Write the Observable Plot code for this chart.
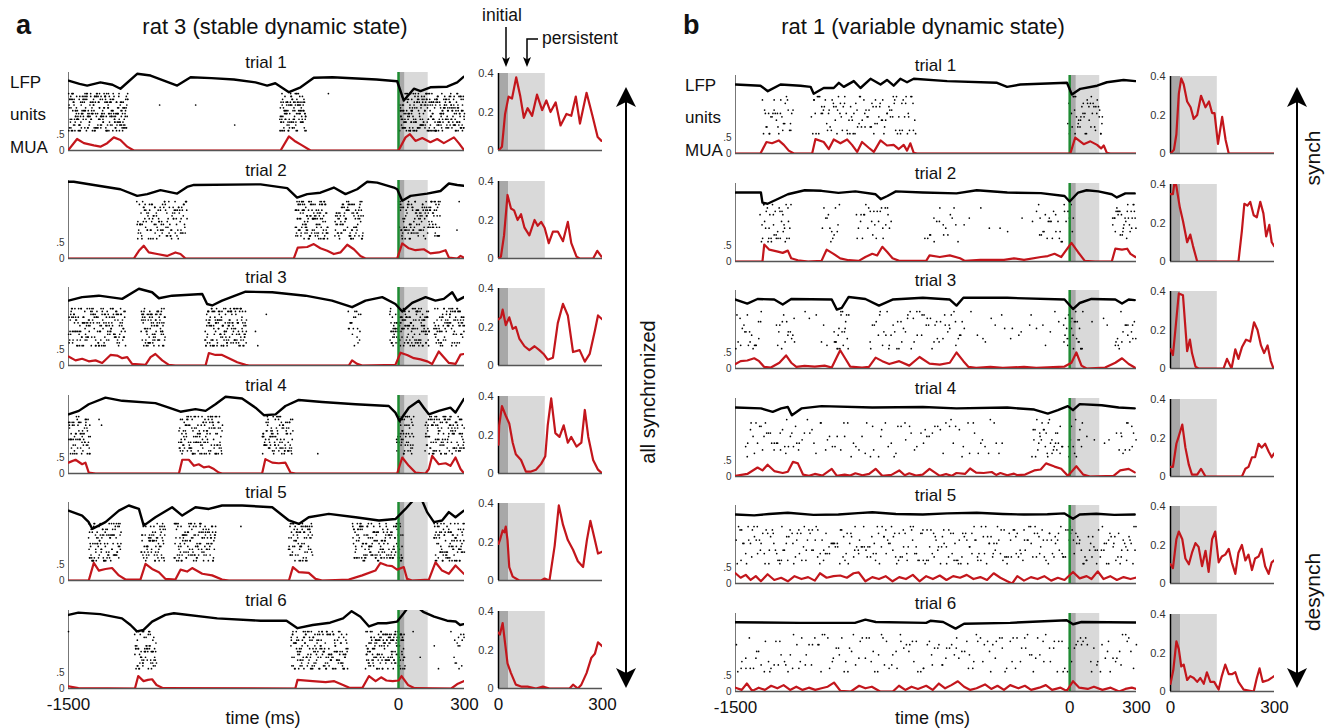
<!DOCTYPE html>
<html><head><meta charset="utf-8">
<script src="https://cdn.jsdelivr.net/npm/d3@7"></script>
<script src="https://cdn.jsdelivr.net/npm/@observablehq/plot@0.6"></script>
<style>
body{margin:0;background:#fff;}
#fig{position:relative;width:1327px;height:728px;overflow:hidden;background:#fff;font-family:"Liberation Sans",Arial,Helvetica,sans-serif;}
.t{position:absolute;white-space:nowrap;line-height:1;color:#111;}
</style></head><body><div id="fig"></div>
<script>
// ---------------- DATA ----------------
const trialLabels = ["trial 1","trial 2","trial 3","trial 4","trial 5","trial 6"];
const mainTicks = [-1500, 0, 300];
const insetTicks = [0, 300];
const muaTicks = [0, 0.5];
const insetYTicks = [0, 0.2, 0.4];
const shadeWindows = [{from: 0, to: 30, kind: "initial"}, {from: 30, to: 135, kind: "persistent"}];

// LFP traces, [time ms, level] (0 = top of range, -1 = deepest)
const lfpA = [
 [[-1500,-0.24],[-1450,-0.35],[-1415,-0.41],[-1355,-0.3],[-1300,-0.38],[-1264,-0.52],[-1188,0],[-1127,-0.06],[-1006,-0.41],[-945,-0.12],[-850,-0.15],[-748,-0.2],[-650,-0.3],[-597,-0.41],[-560,-0.33],[-498,-0.64],[-445,-0.47],[-385,-0.14],[-300,-0.12],[-100,-0.2],[-6,-0.26],[24,-0.93],[70,-0.52],[100,-0.6],[145,-0.47],[221,-0.45],[267,-0.3],[297,-0.1]],
 [[-1500,0],[-1476,0],[-1385,-0.11],[-1264,-0.26],[-1188,-0.49],[-1142,-0.43],[-1082,-0.29],[-1006,-0.41],[-961,-0.18],[-930,-0.11],[-627,-0.09],[-506,-0.22],[-461,-0.55],[-415,-0.43],[-355,-0.38],[-294,-0.2],[-241,-0.43],[-188,-0.26],[-142,0],[-97,-0.03],[-21,-0.2],[-6,-0.26],[17,-0.66],[55,-0.49],[130,-0.41],[191,-0.32],[229,-0.06],[267,-0.11],[297,-0.14]],
 [[-1500,-0.41],[-1438,-0.29],[-1362,-0.24],[-1256,-0.35],[-1180,0],[-1120,-0.12],[-1089,-0.33],[-1029,-0.24],[-892,-0.18],[-870,-0.53],[-847,-0.58],[-802,-0.41],[-695,-0.1],[-574,-0.12],[-423,-0.24],[-302,-0.41],[-211,-0.64],[-150,-0.41],[-74,-0.29],[-14,-0.53],[17,-0.79],[62,-0.49],[123,-0.29],[168,-0.41],[206,-0.35],[244,-0.12],[267,-0.41],[297,-0.29]],
 [[-1500,-0.61],[-1453,-0.49],[-1408,-0.26],[-1332,-0.03],[-1256,-0.14],[-1105,-0.22],[-1044,-0.38],[-991,-0.52],[-923,-0.43],[-877,-0.49],[-832,-0.26],[-786,0],[-711,-0.06],[-650,-0.38],[-612,-0.64],[-559,-0.61],[-514,-0.32],[-453,-0.11],[-347,-0.18],[-195,-0.26],[-44,-0.32],[-14,-0.55],[5,-0.84],[47,-0.38],[92,-0.14],[115,-0.38],[138,-0.61],[183,-0.49],[236,-0.38],[259,-0.55],[297,-0.08]],
 [[-1500,-0.24],[-1438,-0.41],[-1408,-0.64],[-1392,-0.87],[-1332,-0.64],[-1271,-0.24],[-1226,-0.06],[-1180,-0.18],[-1158,-0.76],[-1105,-0.47],[-1029,-0.12],[-983,-0.41],[-923,-0.12],[-862,-0.18],[-802,-0.06],[-711,-0.06],[-574,-0.12],[-498,-0.58],[-453,-0.7],[-408,-0.47],[-317,-0.35],[-195,-0.47],[-89,-0.58],[-14,-0.53],[32,-0.18],[70,0.15],[108,0.1],[130,-0.29],[161,-0.64],[198,-0.58],[229,-0.29],[259,-0.47],[297,-0.24]],
 [[-1500,-0.11],[-1455,-0.03],[-1356,-0.08],[-1257,-0.23],[-1218,-0.46],[-1189,-0.68],[-1159,-0.63],[-1120,-0.34],[-1060,-0.11],[-1021,-0.05],[-824,-0.23],[-627,-0.31],[-509,-0.31],[-459,-0.57],[-390,-0.46],[-311,-0.38],[-252,-0.23],[-213,0.02],[-173,-0.17],[-134,-0.51],[-95,-0.4],[-55,-0.4],[-6,-0.34],[24,-0.05],[43,0.15],[80,0.2],[112,0],[162,-0.17],[221,-0.31],[260,-0.34],[280,-0.46],[296,-0.43]]
];
const lfpB = [
 [[-1500,-0.27],[-1388,-0.31],[-1355,-0.5],[-1298,-0.27],[-1208,-0.31],[-1163,-0.35],[-1149,-0.59],[-1104,-0.39],[-1059,-0.39],[-1036,-0.21],[-1014,-0.35],[-969,-0.15],[-939,-0.39],[-894,-0.07],[-849,-0.27],[-820,-0.11],[-790,-0.31],[-760,-0.07],[-730,-0.19],[-700,-0.07],[-550,-0.15],[-326,-0.21],[-281,-0.35],[-221,-0.27],[-12,-0.21],[10,-0.62],[48,-0.42],[123,-0.31],[167,-0.19],[242,-0.11],[295,-0.15]],
 [[-1500,-0.27],[-1386,-0.27],[-1379,-0.62],[-1356,-0.66],[-1265,-0.33],[-1189,-0.19],[-1114,-0.21],[-1038,-0.28],[-962,-0.23],[-871,-0.33],[-848,-0.5],[-818,-0.39],[-780,-0.23],[-659,-0.27],[-508,-0.3],[-417,-0.19],[-280,-0.27],[-129,-0.29],[-23,-0.39],[0,-0.58],[38,-0.27],[76,-0.19],[129,-0.23],[189,-0.33],[212,-0.44],[250,-0.3],[292,-0.3]],
 [[-1500,-0.27],[-1447,-0.41],[-1401,-0.25],[-1326,-0.27],[-1288,-0.44],[-1250,-0.25],[-1068,-0.27],[-1045,-0.62],[-1023,-0.56],[-992,-0.18],[-917,-0.25],[-856,-0.48],[-795,-0.27],[-659,-0.21],[-538,-0.27],[-508,-0.48],[-477,-0.21],[-280,-0.21],[-23,-0.27],[15,-0.6],[45,-0.39],[98,-0.25],[205,-0.27],[235,-0.41],[265,-0.27],[292,-0.29]],
 [[-1500,-0.27],[-1386,-0.3],[-1333,-0.42],[-1295,-0.3],[-1265,-0.25],[-1247,-0.54],[-1204,-0.3],[-1114,-0.22],[-886,-0.27],[-659,-0.25],[-508,-0.3],[-280,-0.27],[-159,-0.34],[-98,-0.48],[-53,-0.36],[-8,-0.22],[15,-0.36],[45,-0.15],[144,-0.19],[220,-0.27],[292,-0.3]],
 [[-1500,-0.27],[-1416,-0.3],[-1350,-0.25],[-1265,-0.21],[-1150,-0.28],[-1038,-0.27],[-950,-0.22],[-886,-0.19],[-780,-0.25],[-659,-0.27],[-550,-0.23],[-417,-0.21],[-300,-0.25],[-205,-0.27],[-100,-0.26],[-23,-0.23],[15,-0.42],[45,-0.27],[120,-0.24],[200,-0.28],[292,-0.27]],
 [[-1500,-0.26],[-1208,-0.28],[-964,-0.28],[-917,-0.17],[-870,-0.25],[-644,-0.28],[-625,-0.21],[-568,-0.25],[-512,-0.48],[-474,-0.31],[-267,-0.28],[-13,-0.19],[15,-0.33],[53,-0.25],[297,-0.27]]
];

// MUA traces in the long window, [time ms, rate]
const muaA = [
 [[-1500,0.02],[-1461,0.36],[-1430,0.23],[-1385,0.16],[-1355,0.12],[-1324,0.23],[-1294,0.41],[-1264,0.33],[-1233,0.12],[-1203,0],[-536,0],[-498,0.44],[-468,0.28],[-438,0.16],[-400,0],[0,0],[32,0.41],[52,0.51],[77,0.3],[108,0.39],[145,0.26],[176,0.36],[206,0.23],[252,0.41],[274,0.23],[297,0.02]],
 [[-1500,0],[-1203,0],[-1180,0.24],[-1158,0.4],[-1135,0.19],[-1097,0.14],[-1052,0.08],[-1014,0.19],[-991,0.14],[-968,0],[-476,0],[-458,0.34],[-415,0.36],[-385,0.45],[-355,0.32],[-324,0.24],[-294,0.14],[-264,0.19],[-233,0.43],[-203,0.29],[-173,0.08],[-150,0],[-6,0],[17,0.47],[47,0.32],[77,0.26],[115,0.29],[145,0.16],[183,0.19],[214,0.26],[229,0.03],[267,0],[282,0.08],[297,0.03]],
 [[-1500,0.28],[-1468,0.16],[-1438,0.21],[-1408,0.13],[-1377,0.16],[-1347,0.08],[-1309,0.33],[-1279,0.31],[-1256,0.23],[-1233,0.26],[-1211,0.05],[-1150,0.02],[-1127,0.26],[-1105,0.36],[-1074,0.16],[-1044,0.02],[-1014,0],[-877,0],[-862,0.39],[-832,0.33],[-802,0.33],[-771,0.23],[-733,0.1],[-695,0.02],[-680,0],[-226,0],[-211,0.16],[-188,0.05],[-165,0],[-14,0.02],[9,0.4],[39,0.33],[70,0.23],[100,0.19],[130,0.13],[153,0.05],[183,0.44],[206,0.26],[229,0.08],[259,0.05],[282,0.34],[297,0.36]],
 [[-1500,0.34],[-1468,0.43],[-1438,0.29],[-1423,0.34],[-1408,0.03],[-1377,0],[-998,0],[-983,0.43],[-953,0.43],[-930,0.24],[-908,0.29],[-885,0.19],[-862,0.22],[-839,0.14],[-817,0.03],[-802,0],[-620,0],[-605,0.45],[-574,0.34],[-544,0.32],[-514,0.34],[-491,0.03],[-468,0],[-6,0],[17,0.5],[47,0.24],[77,0.03],[123,0],[138,0.14],[153,0.55],[183,0.29],[214,0.32],[236,0.24],[259,0.5],[282,0.14],[297,0.01]],
 [[-1500,0],[-1408,0],[-1385,0.55],[-1362,0.31],[-1332,0.36],[-1302,0.39],[-1271,0.16],[-1241,0.03],[-1173,0.03],[-1150,0.52],[-1120,0.36],[-1089,0.26],[-1059,0.05],[-1014,0.03],[-991,0.34],[-961,0.28],[-938,0.39],[-892,0.21],[-847,0.16],[-802,0.03],[-771,0],[-498,0],[-480,0.42],[-453,0.26],[-408,0.24],[-377,0.05],[-347,0],[-226,0.03],[-165,0.16],[-105,0.31],[-82,0.55],[-52,0.47],[-29,0.45],[-6,0.34],[24,0.42],[39,0.05],[62,0],[138,0.03],[168,0.57],[198,0.31],[229,0.21],[259,0.47],[297,0.21]],
 [[-1500,0.07],[-1455,0.01],[-1198,0],[-1183,0.39],[-1159,0.23],[-1139,0.27],[-1120,0.29],[-1100,0.11],[-1070,0.01],[-469,0],[-459,0.27],[-390,0.23],[-331,0.2],[-292,0.23],[-252,0.11],[-223,0.02],[-164,0.02],[-134,0.39],[-104,0.23],[-79,0.35],[-55,0.25],[-26,0.23],[0,0.25],[14,0.39],[43,0.11],[73,0.01],[240,0],[270,0.15],[296,0.23]]
];
const muaB = [
 [[-1500,0],[-1388,0],[-1361,0.36],[-1336,0.32],[-1306,0.41],[-1283,0.27],[-1261,0.09],[-1238,0],[-1156,0],[-1141,0.45],[-1104,0.36],[-1081,0.14],[-1059,0.44],[-1029,0.32],[-999,0.44],[-977,0.27],[-954,0.05],[-932,0.36],[-902,0.18],[-879,0.05],[-849,0.41],[-820,0.25],[-790,0.27],[-767,0.14],[-745,0.27],[-730,0.09],[-715,0.32],[-700,0.02],[-685,0],[3,0],[25,0.5],[63,0.29],[93,0.38],[123,0.27],[141,0.16],[153,0.25],[167,0.02],[182,0],[300,0]],
 [[-1500,0],[-1379,0],[-1371,0.53],[-1348,0.37],[-1310,0.31],[-1288,0.27],[-1265,0.34],[-1250,0.1],[-1220,0.04],[-1174,0],[-1114,0.02],[-1091,0.37],[-1060,0.24],[-1030,0.1],[-992,0.04],[-947,0.02],[-917,0.14],[-886,0.24],[-864,0.19],[-841,0.46],[-818,0.29],[-795,0.1],[-765,0.02],[-644,0.02],[-629,0.19],[-583,0.14],[-538,0.19],[-492,0.1],[-470,0.02],[-401,0.05],[-295,0.05],[-250,0.1],[-205,0.05],[-129,0.14],[-98,0.17],[-68,0.24],[-38,0.14],[8,0.58],[38,0.29],[68,0.02],[114,0],[189,0],[205,0.4],[235,0.37],[258,0.4],[273,0.24],[295,0.14]],
 [[-1500,0.14],[-1477,0.23],[-1447,0.25],[-1416,0.32],[-1394,0.23],[-1371,0.05],[-1341,0.03],[-1303,0.18],[-1273,0.41],[-1250,0.18],[-1227,0.05],[-1190,0.08],[-1144,0.06],[-1100,0.09],[-1068,0.03],[-1045,0.36],[-1030,0.57],[-1008,0.32],[-985,0.06],[-932,0.03],[-901,0.05],[-871,0.34],[-841,0.23],[-810,0.14],[-765,0.23],[-720,0.09],[-674,0.36],[-629,0.15],[-583,0.12],[-538,0.18],[-508,0.5],[-477,0.23],[-454,0.05],[-420,0.02],[-356,0.05],[-300,0.02],[-205,0.05],[-150,0.02],[-23,0.06],[8,0.18],[30,0.5],[53,0.09],[76,0],[159,0.03],[205,0.18],[235,0.32],[265,0.14],[292,0.03]],
 [[-1500,0.02],[-1447,0.08],[-1401,0.28],[-1379,0.19],[-1356,0.37],[-1326,0.17],[-1288,0.11],[-1265,0.15],[-1242,0.46],[-1220,0.41],[-1197,0.06],[-1170,0.02],[-1144,0.08],[-1110,0.03],[-1068,0.24],[-1045,0.02],[-1010,0.06],[-985,0.03],[-962,0.1],[-930,0.04],[-900,0.08],[-871,0.24],[-841,0.02],[-800,0.05],[-765,0.19],[-740,0.04],[-720,0.1],[-690,0.03],[-660,0.06],[-629,0.24],[-583,0.02],[-555,0.08],[-530,0.02],[-508,0.11],[-470,0.08],[-447,0.25],[-420,0.12],[-386,0.11],[-350,0.14],[-330,0.05],[-311,0.11],[-280,0.04],[-250,0.09],[-235,0.04],[-200,0.06],[-159,0.19],[-130,0.22],[-106,0.41],[-68,0.31],[-38,0.24],[-8,0.02],[30,0.32],[61,0.06],[91,0],[197,0.02],[227,0.19],[265,0.24],[292,0.13]],
 [[-1500,0.32],[-1477,0.18],[-1454,0.27],[-1432,0.11],[-1409,0.23],[-1386,0.07],[-1356,0.29],[-1326,0.11],[-1295,0.18],[-1265,0.07],[-1235,0.23],[-1204,0.14],[-1174,0.2],[-1144,0.09],[-1121,0.32],[-1091,0.18],[-1060,0.23],[-1030,0.25],[-1000,0.18],[-970,0.32],[-947,0.35],[-917,0.07],[-886,0.2],[-856,0.14],[-826,0.23],[-795,0.07],[-765,0.2],[-735,0.14],[-704,0.27],[-674,0.07],[-644,0.23],[-614,0.14],[-583,0.25],[-553,0.11],[-523,0.23],[-492,0.18],[-462,0.27],[-432,0.14],[-401,0.2],[-371,0.11],[-341,0.32],[-311,0.18],[-280,0.07],[-258,0],[-235,0.23],[-205,0.09],[-174,0.2],[-144,0.14],[-114,0.23],[-83,0.09],[-53,0.18],[-23,0.11],[15,0.36],[45,0.16],[76,0.23],[98,0.14],[126,0.38],[152,0.14],[182,0.23],[212,0.11],[242,0.2],[273,0.14],[295,0.18]],
 [[-1500,0.12],[-1472,0.05],[-1449,0.25],[-1425,0.02],[-1396,0.12],[-1368,0.05],[-1340,0.18],[-1312,0.1],[-1284,0.2],[-1255,0.05],[-1227,0.15],[-1199,0.05],[-1171,0.12],[-1142,0.05],[-1114,0.1],[-1086,0.15],[-1058,0.28],[-1029,0.02],[-982,0],[-945,0.18],[-917,0.1],[-888,0.15],[-851,0],[-794,0],[-766,0.18],[-738,0.05],[-710,0.15],[-681,0.08],[-644,0.18],[-615,0.05],[-587,0.25],[-559,0.1],[-531,0.2],[-502,0.32],[-474,0.15],[-446,0.05],[-418,0.1],[-380,0.22],[-352,0.08],[-324,0.18],[-295,0.05],[-267,0.2],[-230,0.1],[-201,0.18],[-173,0.05],[-136,0.12],[-107,0.2],[-79,0.05],[-41,0.12],[-13,0.02],[15,0.32],[43,0.12],[81,0.08],[109,0.15],[147,0.05],[184,0.12],[222,0],[250,0.08],[279,0.12],[300,0.08]]
];

// MUA zoomed on 0-300 ms after stimulus, [time ms, rate]
const insetA = [
 [[0,0],[10,0.02],[19,0.19],[29,0.28],[39,0.27],[51,0.38],[63,0.28],[73,0.17],[84,0.22],[97,0.18],[111,0.29],[126,0.21],[138,0.26],[150,0.2],[165,0.25],[179,0.13],[196,0.19],[210,0.18],[223,0.28],[235,0.14],[254,0.3],[271,0.18],[286,0.07],[297,0.05]],
 [[0,0],[7,0.01],[16,0.12],[26,0.33],[36,0.26],[45,0.25],[55,0.2],[65,0.23],[75,0.16],[89,0.12],[104,0.2],[113,0.17],[123,0.19],[133,0.16],[145,0.08],[157,0.14],[171,0.14],[186,0.09],[200,0.19],[210,0.08],[225,0.01],[234,0],[273,0],[285,0.04],[297,0.01]],
 [[0,0.24],[7,0.25],[12,0.29],[21,0.21],[31,0.25],[41,0.19],[50,0.2],[60,0.14],[75,0.1],[89,0.08],[104,0.1],[118,0.08],[130,0.06],[142,0.03],[157,0.04],[171,0.22],[186,0.32],[200,0.26],[215,0.07],[234,0.08],[249,0.02],[263,0.06],[278,0.18],[287,0.26],[299,0.24]],
 [[0,0.15],[2,0.25],[10,0.35],[21,0.3],[31,0.26],[41,0.16],[50,0.1],[65,0.07],[79,0.01],[94,0.01],[108,0.02],[123,0.05],[135,0.09],[142,0.25],[152,0.39],[164,0.21],[176,0.19],[188,0.25],[200,0.16],[210,0.19],[225,0.14],[239,0.16],[249,0.33],[259,0.19],[273,0.07],[287,0.02],[299,0]],
 [[0,0.19],[4,0.21],[12,0.26],[17,0.25],[21,0.28],[26,0.21],[31,0.07],[41,0.02],[60,0],[123,0],[133,0.01],[147,0],[162,0.18],[174,0.39],[186,0.29],[200,0.21],[215,0.16],[229,0.1],[244,0.07],[255,0.21],[265,0.31],[278,0.21],[287,0.14],[299,0.15]],
 [[0,0.29],[4,0.28],[12,0.34],[20,0.22],[26,0.13],[36,0.08],[50,0.02],[65,0.01],[84,0.01],[108,0],[128,0.01],[147,0],[205,0],[215,0.02],[229,0],[239,0.02],[254,0.08],[268,0.16],[278,0.18],[287,0.24],[299,0.22]]
];
const insetB = [
 [[0,0],[10,0.02],[17,0.1],[24,0.31],[31,0.39],[38,0.36],[48,0.27],[58,0.24],[67,0.18],[77,0.2],[88,0.3],[101,0.24],[111,0.27],[120,0.21],[127,0.21],[137,0.05],[149,0.19],[159,0.07],[168,0],[300,0]],
 [[0,0.35],[7,0.35],[12,0.42],[17,0.39],[27,0.28],[36,0.21],[48,0.1],[57,0.14],[65,0.08],[77,0],[196,0],[206,0.16],[213,0.3],[222,0.29],[230,0.31],[240,0.24],[249,0.23],[259,0.31],[268,0.25],[276,0.13],[285,0.19],[292,0.1],[299,0.08]],
 [[0,0.1],[7,0.07],[14,0.2],[24,0.39],[36,0.38],[48,0.09],[56,0.15],[62,0.08],[72,0.01],[81,0],[153,0],[163,0.05],[176,0],[187,0.1],[196,0.05],[206,0.11],[218,0.15],[230,0.14],[241,0.24],[251,0.2],[261,0.12],[270,0.08],[280,0.12],[289,0.04],[297,0]],
 [[0,0.05],[7,0.05],[17,0.17],[24,0.21],[34,0.27],[43,0.15],[53,0.06],[62,0.01],[77,0.01],[88,0.04],[101,0],[206,0],[216,0.04],[225,0.05],[235,0.1],[244,0.1],[254,0.17],[263,0.15],[273,0.17],[283,0.13],[292,0.1],[299,0.12]],
 [[0,0.1],[7,0.08],[17,0.23],[24,0.27],[34,0.23],[43,0.13],[53,0.1],[62,0.16],[72,0.21],[81,0.19],[91,0.09],[101,0.17],[110,0.06],[120,0.23],[129,0.27],[139,0.11],[148,0.14],[158,0.15],[168,0.18],[177,0.11],[187,0.05],[196,0.16],[206,0.2],[216,0.12],[225,0.15],[235,0.07],[244,0.13],[254,0.14],[263,0.18],[273,0.09],[283,0.05],[292,0.11],[299,0.12]],
 [[0,0.04],[8,0.11],[17,0.26],[24,0.22],[31,0.13],[38,0.14],[48,0.06],[57,0.08],[67,0.07],[77,0.05],[86,0.07],[96,0.04],[105,0.1],[115,0.05],[126,0.05],[139,0.01],[148,0.08],[158,0.14],[168,0.09],[177,0.09],[187,0.1],[196,0.05],[211,0.01],[240,0],[249,0.07],[257,0.12],[266,0.05],[283,0.06],[299,0.08]]
];

// unit firing epochs: [start ms, end ms, spikes per unit per 100 ms]
const unitsA = 14, unitsB = 12;
const firingA = [
 [[-1500,-1230,7],[-1100,-1080,0.5],[-940,-920,0.4],[-760,-740,0.4],[-540,-420,7],[-320,-300,0.3],[5,300,7]],
 [[-1190,-960,4],[-470,-320,6],[-290,-160,5],[0,190,5],[265,280,1]],
 [[-1500,-1240,5],[-1170,-1060,6],[-880,-690,6],[-660,-600,0.3],[-230,-170,2.5],[-40,140,6],[160,300,5]],
 [[-1500,-1400,5],[-1380,-1340,0.4],[-1000,-800,5],[-620,-480,5],[-380,-360,0.3],[-10,70,5],[120,300,5]],
 [[-1410,-1260,5],[-1170,-1060,5],[-1020,-830,5],[-720,-700,0.3],[-500,-390,5],[-210,20,5],[160,300,5]],
 [[-1500,-1480,0.4],[-1200,-1100,5],[-490,-230,5],[-150,30,6],[60,240,0.2],[250,300,2]]
];
const firingB = [
 [[-1380,-1240,2],[-1160,-690,2],[-10,150,2.5]],
 [[-1390,-1250,2.5],[-1110,-1030,1.5],[-960,-800,1.5],[-650,-500,1],[-500,-150,0.2],[-150,20,1.5],[190,300,2.5]],
 [[-1500,-1380,1.5],[-1320,-1230,1.5],[-1200,-1070,0.4],[-1060,-990,2.5],[-900,-470,1.2],[-450,-30,0.4],[-30,60,2.5],[100,190,0.3],[200,300,1.5]],
 [[-1460,-1200,1.2],[-1200,-300,0.7],[-170,-30,2],[-10,60,1.5],[70,190,0.3],[210,300,1.2]],
 [[-1500,300,1.6]],
 [[-1500,300,0.9]]
];

// ---------------- LAYOUT ----------------
const FONT = '"Liberation Sans", Arial, Helvetica, sans-serif';
const Y_MAX = 2.44, LFP_TOP = 2.4, LFP_SPAN = 0.9, RAST_LO = 0.62, RAST_HI = 1.78;
const RED = "#c3161c", GREEN = "#1e8c32", DARK = "#a8a8a8", LIGHT = "#d9d9d9";
const panels = [
 {name: "a", title: "rat 3 (stable dynamic state)", x0: 68, x1: 464, ix0: 498, ix1: 602, base: 150, lfp: lfpA, mua: muaA, inset: insetA, firing: firingA, units: unitsA, labelX: 10, titleX: 275},
 {name: "b", title: "rat 1 (variable dynamic state)", x0: 735, x1: 1136, ix0: 1170, ix1: 1274, base: 153, lfp: lfpB, mua: muaB, inset: insetB, firing: firingB, units: unitsB, labelX: 685, titleX: 923}
];
const STEP = 107.6;
const fig = document.getElementById("fig");

function addText(txt, x, y, size, o = {}) {
  const d = document.createElement("div");
  d.className = "t";
  d.textContent = txt;
  d.style.left = x + "px"; d.style.top = y + "px";
  d.style.fontSize = size + "px";
  if (o.weight) d.style.fontWeight = o.weight;
  const tx = o.anchor === "start" ? "0" : o.anchor === "end" ? "-100%" : "-50%";
  d.style.transform = `translate(${tx},-50%)` + (o.rotate ? ` rotate(${o.rotate}deg)` : "");
  fig.appendChild(d);
}
function place(el, left, top) {
  el.style.position = "absolute"; el.style.left = left + "px"; el.style.top = top + "px";
  fig.appendChild(el);
}
// fixed hashed layout of spikes inside each firing epoch (stratified in time, hashed unit row)
function h32(n) {
  n = Math.imul(n ^ (n >>> 16), 0x45d9f3b);
  n = Math.imul(n ^ (n >>> 16), 0x45d9f3b);
  n = n ^ (n >>> 16);
  return (n >>> 0) / 4294967296;
}
function spikeLayout(epochs, U, seed) {
  const out = [];
  epochs.forEach(([t0, t1, rate], j) => {
    const n = Math.round(rate * U * (t1 - t0) / 100);
    for (let k = 0; k < n; k++) {
      const key = seed * 100003 + j * 7919 + k * 31;
      const a = (k + h32(key + 1)) / n;
      const u = Math.floor(h32(key + 2) * U);
      out.push({t: t0 + a * (t1 - t0), y: RAST_LO + u * (RAST_HI - RAST_LO) / (U - 1)});
    }
  });
  return out;
}
const shade = (yMax) => [
  Plot.rect(shadeWindows.filter(d => d.kind === "initial"), {x1: "from", x2: "to", y1: 0, y2: yMax, fill: DARK}),
  Plot.rect(shadeWindows.filter(d => d.kind === "persistent"), {x1: "from", x2: "to", y1: 0, y2: yMax, fill: LIGHT})
];
const style = {fontFamily: FONT, background: "transparent", overflow: "visible", color: "#333"};

panels.forEach((P, pi) => {
  for (let i = 0; i < 6; i++) {
    const B = P.base + i * STEP;
    const last = i === 5;
    {
      const ml = 30, mr = 6, mt = 4, mb = last ? 34 : 4, H = 78;
      const marks = [
        ...shade(Y_MAX),
        Plot.ruleX([-1500], {y1: 0, y2: Y_MAX, stroke: "#777", strokeWidth: 1}),
        Plot.ruleY([0], {stroke: "#555", strokeWidth: 1.5}),
        Plot.dot(spikeLayout(P.firing[i], P.units, i + 1 + pi * 7), {x: "t", y: "y", r: 0.85, fill: "#000"}),
        Plot.ruleX([0], {y1: 0, y2: Y_MAX, stroke: GREEN, strokeWidth: 2.5}),
        Plot.line(P.mua[i], {x: d => d[0], y: d => d[1], stroke: RED, strokeWidth: 2.2, clip: true}),
        Plot.line(P.lfp[i], {x: d => d[0], y: d => LFP_TOP + d[1] * LFP_SPAN, stroke: "#000", strokeWidth: 2.4, clip: true}),
        Plot.axisY(muaTicks, {tickSize: 0, tickPadding: 4, fontSize: 10, tickFormat: d => d === 0 ? "0" : ".5", label: null})
      ];
      if (last) marks.push(Plot.axisX(mainTicks, {tickSize: 0, tickPadding: 9, fontSize: 17, tickFormat: d => String(d), label: null, color: "#111"}));
      const svg = Plot.plot({
        width: (P.x1 - P.x0) + ml + mr, height: H + mt + mb,
        marginLeft: ml, marginRight: mr, marginTop: mt, marginBottom: mb,
        x: {domain: [-1500, 300], axis: null},
        y: {domain: [0, Y_MAX], axis: null},
        style, marks
      });
      place(svg, P.x0 - ml, B - H - mt);
    }
    {
      const ml = 30, mr = 8, mt = 4, mb = last ? 34 : 4, H = 77;
      const marks = [
        ...shade(0.4),
        Plot.ruleY([0], {stroke: "#555", strokeWidth: 1.5}),
        Plot.ruleX([0], {y1: 0, y2: 0.4, stroke: "#000", strokeWidth: 1.5}),
        Plot.line(P.inset[i], {x: d => d[0], y: d => d[1], stroke: RED, strokeWidth: 2.2, clip: true}),
        Plot.axisY(insetYTicks, {tickSize: 0, tickPadding: 5, fontSize: 11, tickFormat: d => d === 0 ? "0" : d.toFixed(1), label: null})
      ];
      if (last) marks.push(Plot.axisX(insetTicks, {tickSize: 0, tickPadding: 9, fontSize: 17, tickFormat: d => String(d), label: null, color: "#111"}));
      const svg = Plot.plot({
        width: (P.ix1 - P.ix0) + ml + mr, height: H + mt + mb,
        marginLeft: ml, marginRight: mr, marginTop: mt, marginBottom: mb,
        x: {domain: [0, 300], axis: null},
        y: {domain: [0, 0.4], axis: null},
        style, marks
      });
      place(svg, P.ix0 - ml, B - H - mt);
    }
    addText(trialLabels[i], (P.x0 + P.x1) / 2, B - 88, 17);
  }
  addText(P.name, pi === 0 ? 16 : 683, 25, 27, {anchor: "start", weight: "bold"});
  addText(P.title, P.titleX, 27, 22);
  addText("LFP", P.labelX, P.base - 68, 17, {anchor: "start"});
  addText("units", P.labelX, P.base - 36, 17, {anchor: "start"});
  addText("MUA", P.labelX, P.base - 3, 17, {anchor: "start"});
  addText("time (ms)", (P.x0 + P.x1) / 2 - 3, 718, 18);
});

addText("all synchronized", 648, 392, 20, {rotate: -90});
addText("synch", 1312, 158, 21, {rotate: -90});
addText("desynch", 1312, 592, 21, {rotate: -90});
addText("initial", 502, 16, 17.5);
addText("persistent", 542, 39, 17.5, {anchor: "start"});

const ns = "http://www.w3.org/2000/svg";
const ov = document.createElementNS(ns, "svg");
ov.setAttribute("width", 1327); ov.setAttribute("height", 728);
ov.style.position = "absolute"; ov.style.left = "0"; ov.style.top = "0"; ov.style.pointerEvents = "none";
const head = (x, tip, dir, w, h) => `<polygon points="${x},${tip} ${x - w},${tip - dir * h} ${x},${tip - dir * h * 0.75} ${x + w},${tip - dir * h}" fill="#000"/>`;
ov.innerHTML = [
  `<line x1="626" y1="100" x2="626" y2="675" stroke="#000" stroke-width="2"/>`,
  head(626, 87, -1, 10, 20), head(626, 688, 1, 10, 20),
  `<line x1="1297" y1="100" x2="1297" y2="675" stroke="#000" stroke-width="2"/>`,
  head(1297, 87, -1, 10, 20), head(1297, 688, 1, 10, 20),
  `<line x1="506" y1="27" x2="506" y2="60" stroke="#000" stroke-width="1.5"/>`,
  head(506, 67, 1, 4, 10),
  `<polyline points="538,39 527,39 527,60" fill="none" stroke="#000" stroke-width="1.5"/>`,
  head(527, 67, 1, 4, 10)
].join("");
fig.appendChild(ov);
</script></body></html>
